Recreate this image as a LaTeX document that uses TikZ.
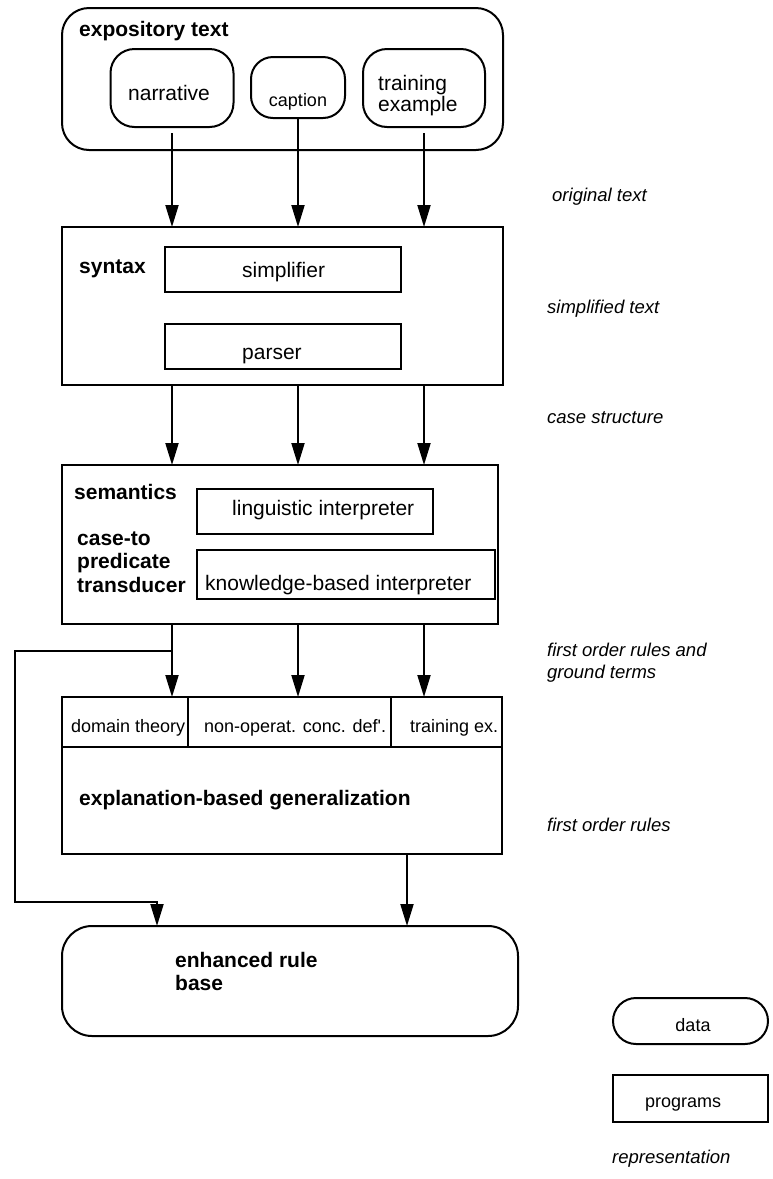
\documentclass[tikz,border=0pt]{standalone}
\usepackage{fontspec}
\setmainfont{Liberation Sans}[Ligatures=TeXOff]
\usetikzlibrary{arrows.meta}
\begin{document}
\begin{tikzpicture}[x=1pt,y=-1pt,
  box/.style={draw, line width=2pt, inner sep=0pt, outer sep=0pt},
  databox/.style={box, rounded corners=#1},
  progbox/.style={box},
  big/.style={font=\fontsize{21}{25}\selectfont, inner sep=0pt, anchor=base west},
  bigb/.style={font=\fontsize{21}{25}\selectfont\bfseries, inner sep=0pt, anchor=base west},
  small/.style={font=\fontsize{18}{22}\selectfont, inner sep=0pt, anchor=base west},
  lab/.style={font=\fontsize{18.5}{22}\selectfont\itshape, inner sep=0pt, anchor=base west},
  arr/.style={line width=2pt, -{Triangle[length=22pt,width=13pt]}},
  ln/.style={line width=2pt}]
\useasboundingbox (0,0) rectangle (773,1179);

% expository text
\node[databox=27pt, minimum width=441pt, minimum height=142pt] (expo) at (282.5,79) {};
\node[bigb] (expot) at (79,36) {expository text};
\node[databox=24pt, minimum width=123pt, minimum height=78pt] (narr) at (172,88) {};
\node[big, anchor=base] (narrt) at (169,100) {narrative};
\node[databox=22pt, minimum width=94pt, minimum height=61pt] (capt) at (298,87.5) {};
\node[small, anchor=base] (captt) at (298,106) {caption};
\node[databox=24pt, minimum width=122pt, minimum height=78pt] (train) at (424,88) {};
\node[big] (traint1) at (378,90) {training};
\node[big] (traint2) at (378,111) {example};

% syntax
\node[progbox, minimum width=441pt, minimum height=158pt] (syn) at (282.5,306) {};
\node[bigb] (synt) at (79,273) {syntax};
\node[progbox, minimum width=236pt, minimum height=45pt] (simp) at (283,269.5) {};
\node[big] (simpt) at (242,277) {simplifier};
\node[progbox, minimum width=236pt, minimum height=45pt] (pars) at (283,346.5) {};
\node[big] (parst) at (242,359) {parser};

% semantics
\node[progbox, minimum width=436pt, minimum height=159pt] (sem) at (280,544.5) {};
\node[bigb] (semt) at (74,499) {semantics};
\node[progbox, minimum width=236pt, minimum height=45pt] (ling) at (315,511.5) {};
\node[big] (lingt) at (232,515) {linguistic interpreter};
\node[bigb] (ct1) at (77,545) {case-to};
\node[bigb] (ct2) at (77,568) {predicate};
\node[bigb] (ct3) at (77,592) {transducer};
\node[progbox, minimum width=298pt, minimum height=49pt] (kbi) at (346,574.5) {};
\node[big] (kbit) at (205,590) {knowledge-based interpreter};

% EBG
\node[progbox, minimum width=440pt, minimum height=157pt] (ebg) at (282,775.5) {};
\node[progbox, minimum width=126pt, minimum height=50pt] (dt) at (125,722) {};
\node[progbox, minimum width=203pt, minimum height=50pt] (noc) at (289.5,722) {};
\node[progbox, minimum width=111pt, minimum height=50pt] (tex) at (446.5,722) {};
\node[small] (dtt) at (71,732) {domain theory};
\node[small] (noct) at (204,732) {non-operat. conc. def'.};
\node[small] (text) at (410,732) {training ex.};
\node[bigb] (ebgt) at (79,805) {explanation-based generalization};

% enhanced rule base
\node[databox=30pt, minimum width=456pt, minimum height=110pt] (erb) at (290,981) {};
\node[bigb] (erbt1) at (175,967) {enhanced rule};
\node[bigb] (erbt2) at (175,990) {base};

% labels
\node[lab] (l1) at (552,201) {original text};
\node[lab] (l2) at (547,313) {simplified text};
\node[lab] (l3) at (547,423) {case structure};
\node[lab] (l4a) at (547,656) {first order rules and};
\node[lab] (l4b) at (547,678) {ground terms};
\node[lab] (l5) at (547,831) {first order rules};

% legend
\node[databox=23pt, minimum width=155pt, minimum height=46pt] (leg1) at (690.5,1021) {};
\node[small, anchor=base] (leg1t) at (693,1031) {data};
\node[progbox, minimum width=155pt, minimum height=47pt] (leg2) at (690.5,1098.5) {};
\node[small] (leg2t) at (645,1107) {programs};
\node[lab] (leg3) at (612,1163) {representation};

% connectors
\draw[arr] ([yshift=-6pt]narr.south) -- (narr.south |- syn.north);
\draw[arr] (capt.south) -- (capt.south |- syn.north);
\draw[arr] ([yshift=-6pt]train.south) -- (train.south |- syn.north);

\draw[arr] (syn.south -| narr.south) -- (sem.north -| narr.south);
\draw[arr] (syn.south -| capt.south) -- (sem.north -| capt.south);
\draw[arr] (syn.south -| train.south) -- (sem.north -| train.south);

\draw[arr] (sem.south -| narr.south) -- (dt.north -| narr.south);
\draw[arr] (sem.south -| capt.south) -- (noc.north -| capt.south);
\draw[arr] (sem.south -| train.south) -- (tex.north -| train.south);

\coordinate (fbturn) at (15,651);
\coordinate (fbdown) at (15,902);
\coordinate (xl) at (157,0);
\coordinate (xr) at (407,0);
\draw[arr] (fbturn -| narr.south) -- (fbturn) -- (fbdown) -| (erb.north -| xl);
\draw[arr] (ebg.south -| xr) -- (erb.north -| xr);
\end{tikzpicture}
\end{document}
